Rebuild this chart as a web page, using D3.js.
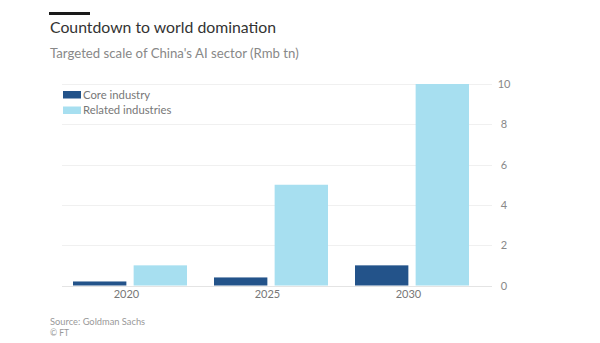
<!DOCTYPE html>
<html>
<head>
<meta charset="utf-8">
<script src="https://cdn.jsdelivr.net/npm/d3@7"></script>
<style>
  html, body { margin: 0; padding: 0; background: #fff; }
  svg { display: block; font-family: Lato, "Open Sans", sans-serif; }
</style>
</head>
<body>
<svg id="chart" width="600" height="343"></svg>
<script>
const years = ["2020", "2025", "2030"];
const seriesNames = ["Core industry", "Related industries"];
const coreValues = [0.2, 0.4, 1];
const relatedValues = [1, 5, 10];
const yTicks = [0, 2, 4, 6, 8, 10];
const colors = ["#23538a", "#a7dff0"];

const svg = d3.select("#chart");

// Header
svg.append("rect").attr("x", 49).attr("y", 12).attr("width", 41).attr("height", 3).attr("fill", "#1a1a1a");
svg.append("text").attr("x", 50).attr("y", 33)
  .attr("font-size", 15.8).attr("fill", "#333").text("Countdown to world domination");
svg.append("text").attr("x", 50).attr("y", 58)
  .attr("font-size", 13.2).attr("fill", "#888").text("Targeted scale of China's AI sector (Rmb tn)");

// Scales
const y = d3.scaleLinear().domain([0, 10]).range([285.5, 84]);
const x0 = d3.scaleBand().domain(years).range([56, 479]).padding(0);
const x1 = d3.scaleBand().domain(seriesNames).range([17, 131]).paddingInner(0.12);

// Gridlines
svg.append("g").selectAll("line").data(yTicks).join("line")
  .attr("x1", 62).attr("x2", 492)
  .attr("y1", d => Math.round(y(d)) + 0.5).attr("y2", d => Math.round(y(d)) + 0.5)
  .attr("stroke", d => d === 0 ? "#e4e4e4" : "#f0f0f0").attr("stroke-width", 1);

// Right axis labels
const yAxis = d3.axisRight(y).tickValues(yTicks).tickSize(0).tickPadding(0);
const gy = svg.append("g").attr("transform", "translate(504,0)").call(yAxis);
gy.select(".domain").remove();
gy.selectAll("text").attr("text-anchor", "middle").attr("font-size", 11)
  .attr("fill", "#888").attr("font-family", "Lato, 'Open Sans', sans-serif");

// Bars
const data = years.map((yr, i) => ({ year: yr, values: [coreValues[i], relatedValues[i]] }));
const groups = svg.append("g").selectAll("g").data(data).join("g")
  .attr("transform", d => `translate(${x0(d.year)},0)`);
groups.selectAll("rect").data(d => d.values.map((v, j) => ({ name: seriesNames[j], v, j })))
  .join("rect")
  .attr("x", d => x1(d.name))
  .attr("width", x1.bandwidth())
  .attr("y", d => y(d.v))
  .attr("height", d => y(0) - y(d.v))
  .attr("fill", d => colors[d.j]);

// X axis labels
const xAxis = d3.axisBottom(x0).tickSize(0).tickPadding(0);
const gx = svg.append("g").attr("transform", "translate(0,290)").call(xAxis);
gx.select(".domain").remove();
gx.selectAll("text").attr("font-size", 11).attr("fill", "#777")
  .attr("font-family", "Lato, 'Open Sans', sans-serif").attr("dy", "0.71em");

// Legend
const legend = svg.append("g").selectAll("g").data(seriesNames).join("g")
  .attr("transform", (d, i) => `translate(63,${91 + i * 15.5})`);
legend.append("rect").attr("width", 18).attr("height", 7.5).attr("fill", (d, i) => colors[i]);
legend.append("text").attr("x", 20).attr("y", 7.5).attr("font-size", 11.3)
  .attr("fill", "#777").text(d => d);

// Footer
svg.append("text").attr("x", 50).attr("y", 325).attr("font-size", 9.3).attr("fill", "#999").text("Source: Goldman Sachs");
svg.append("text").attr("x", 50).attr("y", 336).attr("font-size", 8.5).attr("fill", "#999").text("© FT");
</script>
</body>
</html>
